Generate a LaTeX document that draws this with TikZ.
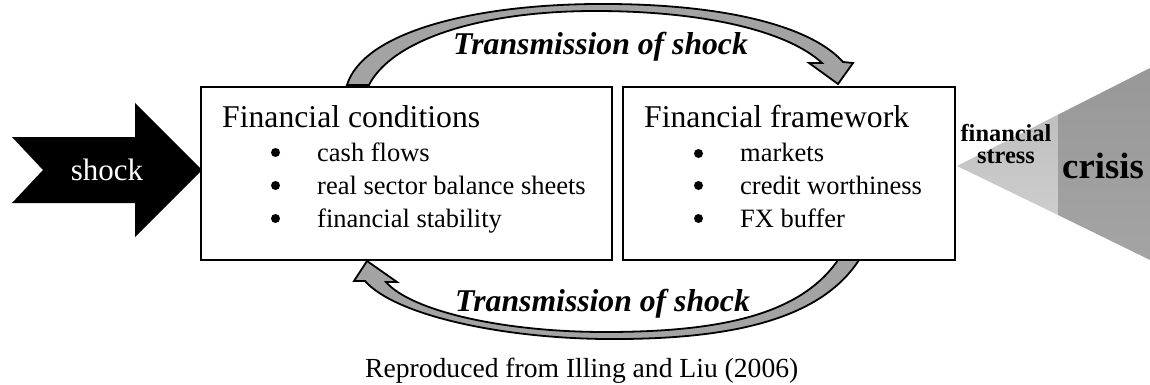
\documentclass[tikz,border=0pt]{standalone}
\usepackage{fontspec}
\setmainfont{Liberation Serif}
\definecolor{arrowgray}{HTML}{A3A3A3}
\definecolor{stresslight}{HTML}{CDCDCD}
\definecolor{stresslight2}{HTML}{BFBFBF}
\definecolor{crisisdark}{HTML}{989898}
\definecolor{crisisdark2}{HTML}{A4A4A4}
\tikzset{
  framebox/.style={draw=black, line width=1.2pt, inner sep=0pt, fill=white},
  txt/.style={inner sep=0pt, anchor=base west},
  headfont/.style={font=\fontsize{31.7}{36}\selectfont},
  itemfont/.style={font=\fontsize{26.5}{30}\selectfont},
  transfont/.style={font=\fontsize{31.7}{36}\selectfont\bfseries\itshape},
  bulletdot/.style={circle, fill=black, inner sep=0pt, minimum size=9pt},
  bentarrow/.style={draw=black, line width=1.8pt, fill=arrowgray, line join=miter},
}
\begin{document}
\begin{tikzpicture}[x=1pt,y=-1pt]
\useasboundingbox (0,0) rectangle (1150,385);

% boxes
\node[framebox, minimum width=411pt, minimum height=173pt] (cond) at (406.5,173.5) {};
\node[framebox, minimum width=332pt, minimum height=173pt] (frame) at (789,173.5) {};

% shock arrow
\fill[black] (12,137) -- (135,137) -- (135,103) -- (202,170) -- (135,237) -- (135,203) -- (12,203) -- (43,170) -- cycle;
\node[inner sep=0pt, text=white, font=\fontsize{31}{36}\selectfont] (shock) at (107,170) {shock};

% left box text
\node[txt, headfont] (condhead) at (222,128) {Financial conditions};
\node[bulletdot] (b1) at (275.5,152.5) {};
\node[txt, itemfont] (i1) at (317,161) {cash flows};
\node[bulletdot] (b2) at (275.5,185.5) {};
\node[txt, itemfont] (i2) at (317,194) {real sector balance sheets};
\node[bulletdot] (b3) at (275.5,218.5) {};
\node[txt, itemfont] (i3) at (317,227) {financial stability};

% right box text
\node[txt, headfont] (framehead) at (644,128) {Financial framework};
\node[bulletdot] (c1) at (698.5,153.5) {};
\node[txt, itemfont] (j1) at (740,161) {markets};
\node[bulletdot] (c2) at (698.5,185.5) {};
\node[txt, itemfont] (j2) at (740,194) {credit worthiness};
\node[bulletdot] (c3) at (698.5,218.5) {};
\node[txt, itemfont] (j3) at (740,227) {FX buffer};

% funnel
\shade[top color=stresslight2, bottom color=stresslight] (957,166) -- (1058,114.7) -- (1058,215) -- cycle;
\shade[top color=crisisdark, bottom color=crisisdark2] (1058,114.7) -- (1150,68) -- (1150,260) -- (1058,215) -- cycle;
\node[inner sep=0pt, align=center, font=\fontsize{24.4}{22}\selectfont\bfseries, anchor=base] (stress) at (1006,163) {financial\\stress};
\node[inner sep=0pt, font=\fontsize{36.7}{40}\selectfont\bfseries, anchor=base] (crisis) at (1103,178) {crisis};

% top curved arrow
\path[bentarrow] (347,85) .. controls (363,33) and (470,5) .. (595,4)
  .. controls (720,3) and (810,25) .. (843,62)
  -- (853,63) -- (838,84) -- (809,63) -- (822,63)
  .. controls (790,33) and (710,11) .. (595,11)
  .. controls (480,11) and (392,40) .. (369,85) -- cycle;
\node[txt, transfont] (t1) at (453,55) {Transmission of shock};

% bottom curved arrow
\path[bentarrow] (859,260) .. controls (820,320) and (730,340) .. (605,339)
  .. controls (500,338) and (395,315) .. (365,281)
  -- (354,281) -- (367,261) -- (397,282) -- (386,282)
  .. controls (410,310) and (500,332) .. (605,332)
  .. controls (720,332) and (800,315) .. (838,260) -- cycle;
\node[txt, transfont] (t2) at (455,311) {Transmission of shock};

% caption
\node[txt, font=\fontsize{27.6}{32}\selectfont] (cap) at (365,377) {Reproduced from Illing and Liu (2006)};
\end{tikzpicture}
\end{document}
